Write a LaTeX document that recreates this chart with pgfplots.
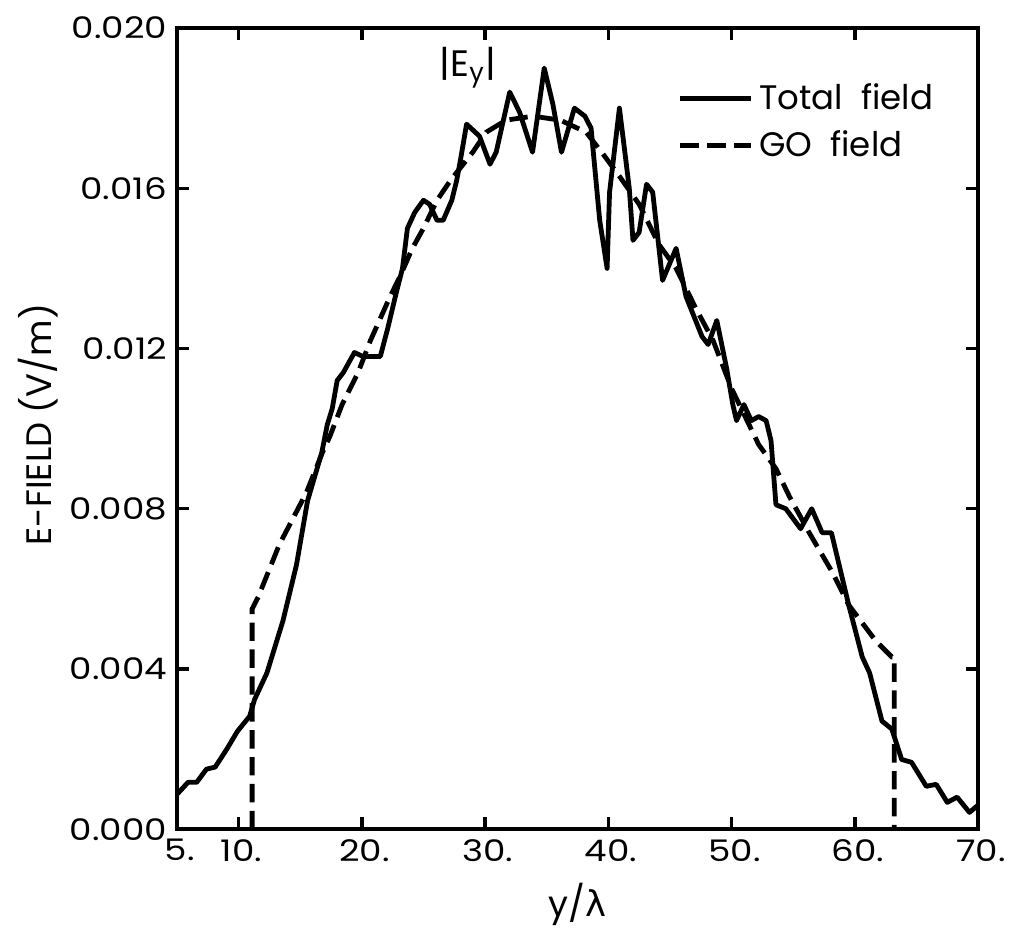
\documentclass[border=0pt]{standalone}
\usepackage{pgfplots}
\pgfplotsset{compat=1.18}
\usepackage{fontspec}
\setmainfont{Poppins}
\newfontfamily\tickfont{Poppins}[FakeStretch=1.2]
\newfontfamily\greekfont{DejaVu Sans}

% total field |Ey|
\pgfplotstableread{
x y
5.0 0.00087
5.9 0.00117
6.6 0.00117
7.4 0.00150
8.1 0.00155
9.05 0.00200
9.9 0.00244
10.9 0.00282
11.3 0.00324
12.3 0.0039
13.6 0.0052
14.7 0.0066
15.6 0.0082
16.75 0.0094
17.2 0.0101
17.6 0.0105
18.0 0.0112
18.5 0.0114
19.4 0.0119
20.1 0.0118
21.5 0.0118
22.1 0.0125
22.8 0.0134
23.3 0.0140
23.7 0.0150
24.3 0.0154
25.0 0.0157
25.5 0.0156
26.1 0.0152
26.6 0.0152
27.3 0.0157
27.7 0.0162
28.0 0.0167
28.5 0.0176
29.55 0.0173
30.4 0.0166
30.9 0.0169
32.0 0.0184
32.8 0.0179
33.85 0.0169
34.8 0.0190
35.5 0.0181
36.2 0.0169
37.25 0.0180
38.1 0.0178
38.6 0.0175
39.3 0.0152
39.9 0.0140
40.1 0.0159
40.9 0.0180
41.7 0.0160
42.0 0.0147
42.5 0.0149
43.1 0.0161
43.6 0.0159
44.4 0.0137
45.5 0.0145
46.3 0.0133
47.6 0.0123
48.1 0.0121
48.8 0.0127
49.6 0.0115
50.1 0.0106
50.4 0.0102
51.0 0.0106
51.6 0.0102
52.2 0.0103
52.8 0.0102
53.2 0.0097
53.6 0.0081
54.4 0.0080
55.6 0.0075
56.5 0.0080
57.35 0.0074
58.1 0.0074
59.5 0.0056
60.6 0.0043
61.2 0.0039
62.2 0.0027
63.0 0.0025
63.8 0.00174
64.6 0.00167
65.8 0.00107
66.6 0.00112
67.5 0.00067
68.3 0.0008
69.3 0.00042
70.0 0.0006
}\totalfield

% GO field
\pgfplotstableread{
x y
11.1 0
11.1 0.0055
11.6 0.0058
13.3 0.0071
15.5 0.0084
16.8 0.0094
17.4 0.0098
18.4 0.0106
19.7 0.0114
20.7 0.0122
22.3 0.0133
23.1 0.0138
24.1 0.0145
25.0 0.0150
26.1 0.0157
27.2 0.0162
29.0 0.0169
30.1 0.0174
31.7 0.0177
33.9 0.0178
36.1 0.0177
38.2 0.0174
39.7 0.0168
40.9 0.0163
42.5 0.0156
44.1 0.0146
45.5 0.0140
47.1 0.0130
48.5 0.0122
50.0 0.0110
52.2 0.0096
53.6 0.0090
54.7 0.0083
56.3 0.0074
58.2 0.0064
59.5 0.0056
61.7 0.0047
63.0 0.0043
63.2 0.0043
63.2 0
}\gofield

\begin{document}
\begin{tikzpicture}
\begin{axis}[
    scale only axis,
    width=283pt, height=283pt,
    xmin=5, xmax=70, ymin=0, ymax=0.020,
    axis line style={line width=1.3pt},
    tick style={line width=1.2pt, black},
    tick align=inside,
    major tick length=4.3pt,
    xtick={5,10,20,30,40,50,60,70},
    xticklabels={5.,10.,20.,30.,40.,50.,60.,70.},
    ytick={0,0.004,0.008,0.012,0.016,0.020},
    yticklabels={0.000,0.004,0.008,0.012,0.016,0.020},
    scaled y ticks=false,
    ticklabel style={font=\tickfont\fontsize{10.5}{12}\selectfont},
    xticklabel style={xshift=1pt},
    xlabel={y/{\greekfont λ}},
    ylabel={E-FIELD (V/m)},
    label style={font=\fontsize{12.5}{14}\selectfont},
    xlabel style={at={(axis description cs:0.5,-0.094)}, anchor=center},
    ylabel style={at={(axis description cs:-0.173,0.505)}, anchor=center},
    legend style={draw=none, fill=none, at={(0.614,0.946)}, anchor=north west,
        font=\fontsize{12}{14}\selectfont, row sep=2pt},
    legend cell align=left,
    legend image code/.code={\draw[#1] (0pt,0pt) -- (25pt,0pt);},
]
\addplot[black, line width=1.7pt, line join=round] table {\totalfield};
\addlegendentry{Total\ \ field}
\addplot[black, line width=1.7pt, dash pattern=on 6.5pt off 3pt] table {\gofield};
\addlegendentry{GO\ \ field}
\node[font=\fontsize{13}{15}\selectfont] at (axis cs:28.6,0.0190) {|E\textsubscript{y}|};
\end{axis}
\pgfresetboundingbox
\path[use as bounding box] ([xshift=-62.5pt,yshift=-36.7pt]current axis.south west)
    rectangle ([xshift=14.1pt,yshift=9.9pt]current axis.north east);
\end{tikzpicture}
\end{document}
